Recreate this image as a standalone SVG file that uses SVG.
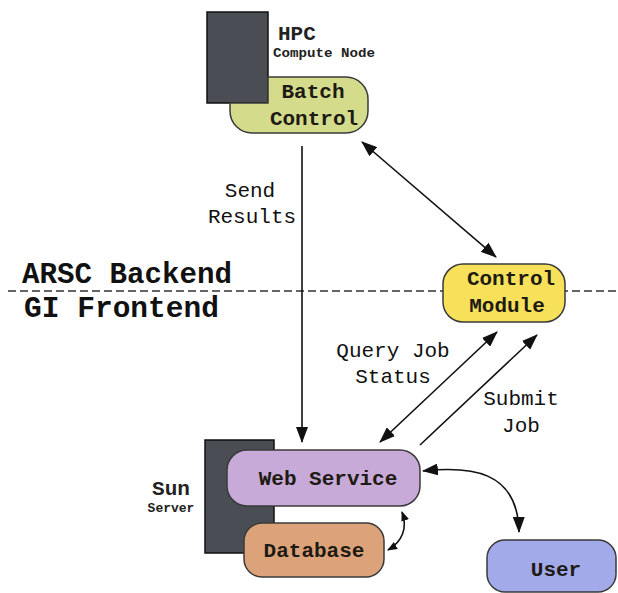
<svg xmlns="http://www.w3.org/2000/svg" width="618" height="593" viewBox="0 0 618 593">
<style>
.box{stroke:#3a3a3a;stroke-width:1.5}
.dark{fill:#4a4e54;stroke:#111;stroke-width:1.5}
.nt{font-family:"Liberation Mono","Courier New",monospace;font-weight:bold;font-size:21px;text-anchor:middle;fill:#1e1a14}
.lt{font-family:"Liberation Mono","Courier New",monospace;font-size:21px;text-anchor:middle;fill:#111}
.big{font-family:"Liberation Mono","Courier New",monospace;font-weight:bold;font-size:29px;fill:#111}
.sm{font-family:"Liberation Mono","Courier New",monospace;font-weight:bold;fill:#222}
.ln{fill:none;stroke:#111;stroke-width:1.6}
</style>
<defs>
<marker id="ah" viewBox="0 0 16 12" refX="15" refY="6" markerWidth="16" markerHeight="12" markerUnits="userSpaceOnUse" orient="auto-start-reverse">
<path d="M0,0 L16,6 L0,12 Z" fill="#111"/>
</marker>
<marker id="ahs" viewBox="0 0 10 8" refX="9" refY="4" markerWidth="10" markerHeight="8" markerUnits="userSpaceOnUse" orient="auto-start-reverse">
<path d="M0,0 L10,4 L0,8 Z" fill="#111"/>
</marker>
</defs>
<rect width="618" height="593" fill="#fff"/>
<g id="divider">
<line x1="8" y1="291" x2="618" y2="291" stroke="#333" stroke-width="1.3" stroke-dasharray="8,4"/>
<text class="big" x="22" y="283" textLength="210" lengthAdjust="spacingAndGlyphs">ARSC Backend</text>
<text class="big" x="24" y="317" textLength="195" lengthAdjust="spacingAndGlyphs">GI Frontend</text>
</g>
<g id="connectors">
<line class="ln" x1="302" y1="146" x2="302" y2="442" marker-end="url(#ah)"/>
<line class="ln" x1="362" y1="142" x2="496" y2="257" marker-start="url(#ah)" marker-end="url(#ah)"/>
<line class="ln" x1="380" y1="442" x2="497" y2="332" marker-start="url(#ah)" marker-end="url(#ah)"/>
<line class="ln" x1="420" y1="445" x2="537" y2="335" marker-end="url(#ah)"/>
<path class="ln" d="M423,471 C470,466 518,470 519,532" marker-start="url(#ah)" marker-end="url(#ah)"/>
<path class="ln" d="M402,512 C408,528 402,542 388,550" marker-start="url(#ahs)" marker-end="url(#ahs)"/>
<text class="lt" x="250" y="197">Send</text>
<text class="lt" x="252" y="223">Results</text>
<text class="lt" x="393" y="357">Query Job</text>
<text class="lt" x="393" y="383">Status</text>
<text class="lt" x="521" y="405">Submit</text>
<text class="lt" x="521" y="432">Job</text>
</g>
<g id="hpc">
<rect class="dark" x="207" y="12" width="61" height="91"/>
<text class="sm" x="278" y="40" font-size="21">HPC</text>
<text class="sm" x="273" y="57" font-size="13" textLength="102" lengthAdjust="spacingAndGlyphs">Compute Node</text>
</g>
<g id="batch-control">
<path class="box" fill="#d4dc8c" d="M268,77 H346 A22,22 0 0 1 368,99 V111 A22,22 0 0 1 346,133 H252 A22,22 0 0 1 230,111 V103 H268 Z"/>
<text class="nt" x="313" y="98" font-size="20">Batch</text>
<text class="nt" x="314" y="125" font-size="20">Control</text>
</g>
<g id="control-module">
<rect class="box" x="443" y="264" width="122" height="58" rx="20" fill="#f7e15a"/>
<text class="nt" x="511" y="285">Control</text>
<text class="nt" x="507" y="312">Module</text>
</g>
<g id="sun-server">
<rect class="dark" x="205" y="440" width="69" height="113"/>
<text class="sm" x="171" y="495" font-size="21" text-anchor="middle">Sun</text>
<text class="sm" x="171" y="512" font-size="13" text-anchor="middle">Server</text>
</g>
<g id="web-service">
<rect class="box" x="227" y="450" width="193" height="56" rx="20" fill="#c8aad8"/>
<text class="nt" x="328" y="485" fill="#1a1028">Web Service</text>
</g>
<g id="database">
<rect class="box" x="244" y="523" width="140" height="54" rx="18" fill="#dca37a"/>
<text class="nt" x="314" y="557">Database</text>
</g>
<g id="user">
<rect class="box" x="487" y="540" width="129" height="52" rx="18" fill="#a3aaea"/>
<text class="nt" x="556" y="576" fill="#161c48">User</text>
</g>
</svg>
